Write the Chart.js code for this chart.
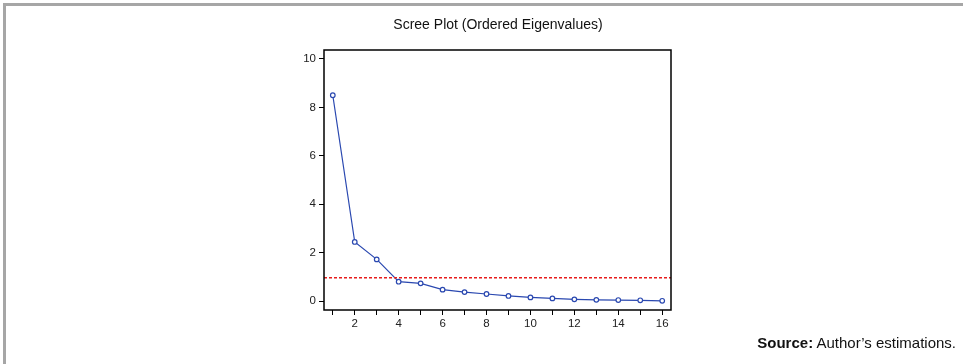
<!DOCTYPE html>
<html>
<head>
<meta charset="utf-8">
<script src="https://cdn.jsdelivr.net/npm/chart.js@4.4.1/dist/chart.umd.min.js"></script>
<style>
  html, body { margin: 0; padding: 0; background: #fff; }
  body { width: 963px; height: 364px; position: relative; overflow: hidden; font-family: "Liberation Sans", Arial, sans-serif; }
  #frame { position: absolute; left: 3px; top: 3px; right: 0; bottom: 0; border-left: 3px solid #a6a6a6; border-top: 3px solid #a6a6a6; }
  #wrap { position: absolute; left: 0; top: 0; width: 963px; height: 364px; }
  #title { position: absolute; left: 0; width: 996px; top: 16px; text-align: center; font-size: 14px; color: #111; }
  #source { position: absolute; right: 7px; top: 334px; font-size: 15px; color: #111; }
</style>
</head>
<body>
<div id="frame"></div>
<div id="wrap"><canvas id="c" width="963" height="364"></canvas></div>
<div id="title">Scree Plot (Ordered Eigenvalues)</div>
<div id="source"><b>Source:</b> Author’s estimations.</div>
<script>
const components = [1,2,3,4,5,6,7,8,9,10,11,12,13,14,15,16];
const eigenvalues = [8.50, 2.44, 1.72, 0.80, 0.73, 0.47, 0.37, 0.29, 0.21, 0.15, 0.11, 0.07, 0.05, 0.04, 0.03, 0.01];
const xTicks = [1,2,3,4,5,6,7,8,9,10,11,12,13,14,15,16];
const yTicks = [0,2,4,6,8,10];
const threshold = 1;

const framePlugin = {
  id: 'framePlugin',
  afterDatasetsDraw(chart) {
    const {ctx, chartArea: a, scales} = chart;
    const y = Math.round(scales.y.getPixelForValue(threshold));
    ctx.save();
    ctx.fillStyle = '#e81c1c';
    for (let x = a.left; x < a.right; x += 5) {
      ctx.fillRect(x, y, Math.min(3, a.right - x), 1.5);
    }
    ctx.restore();
  },
  afterDraw(chart) {
    const {ctx, chartArea: a} = chart;
    ctx.save();
    ctx.strokeStyle = '#000';
    ctx.lineWidth = 1.5;
    ctx.strokeRect(a.left, a.top, a.right - a.left, a.bottom - a.top);
    ctx.restore();
  }
};

new Chart(document.getElementById('c'), {
  type: 'line',
  data: {
    datasets: [{
      data: components.map((c, i) => ({x: c, y: eigenvalues[i]})),
      borderColor: '#2a48b0',
      borderWidth: 1.2,
      pointRadius: 2.3,
      pointBorderWidth: 1.2,
      pointBorderColor: '#2a48b0',
      pointBackgroundColor: '#ffffff',
      pointHoverRadius: 2.3,
      fill: false,
      tension: 0
    }]
  },
  options: {
    responsive: false,
    animation: false,
    events: [],
    layout: { padding: { left: 0, right: 292, top: 50, bottom: 0 } },
    plugins: { legend: { display: false }, tooltip: { enabled: false }, title: { display: false } },
    scales: {
      x: {
        type: 'linear',
        min: 0.6,
        max: 16.4,
        afterBuildTicks(scale) { scale.ticks = xTicks.map(v => ({value: v})); },
        afterFit(scale) { scale.height = 54; },
        border: { display: false },
        grid: { drawOnChartArea: false, drawTicks: true, tickLength: 5, color: '#000', tickWidth: 1 },
        ticks: {
          autoSkip: false,
          maxRotation: 0,
          padding: 2,
          color: '#222',
          font: { family: '"Liberation Sans", Arial, sans-serif', size: 11.5 },
          callback: (v) => (v % 2 === 0 ? String(v) : '')
        }
      },
      y: {
        type: 'linear',
        min: -0.37,
        max: 10.37,
        afterBuildTicks(scale) { scale.ticks = yTicks.map(v => ({value: v})); },
        afterFit(scale) { scale.width = 324; },
        border: { display: false },
        grid: { drawOnChartArea: false, drawTicks: true, tickLength: 5, color: '#000', tickWidth: 1 },
        ticks: {
          padding: 3,
          color: '#222',
          font: { family: '"Liberation Sans", Arial, sans-serif', size: 11.5 }
        }
      }
    }
  },
  plugins: [framePlugin]
});
</script>
</body>
</html>
